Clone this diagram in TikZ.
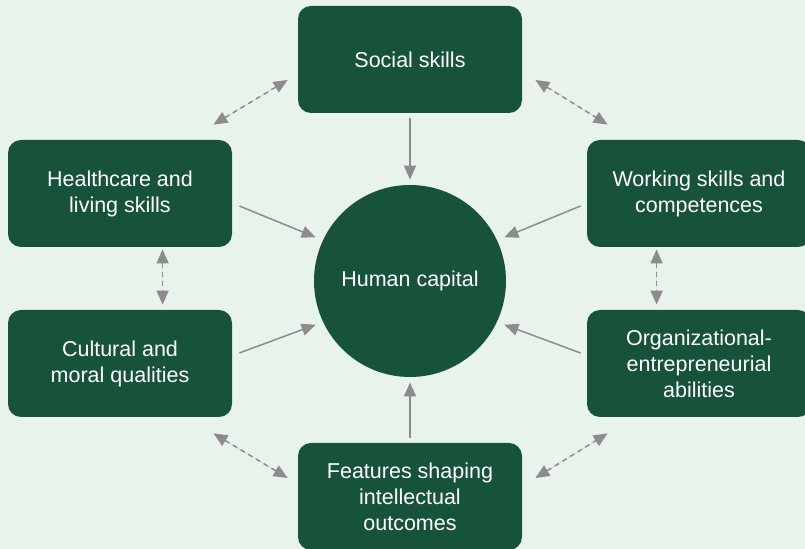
\documentclass[tikz,border=0pt]{standalone}
\usepackage{fontspec}
\setmainfont{Liberation Sans}
\usetikzlibrary{calc,arrows.meta}
\definecolor{bgmint}{HTML}{E8F3EC}
\definecolor{boxgreen}{HTML}{17523A}
\definecolor{arrgray}{HTML}{8C8C8E}
\tikzset {>={Triangle[length=7pt,width=6pt]}}
\tikzset{
  skill/.style={fill=boxgreen, text=white, rounded corners=6.5pt, align=center,
    minimum width=112pt, minimum height=53.5pt, inner sep=2pt,
    font=\fontsize{10.75}{13}\selectfont},
  hub/.style={circle, fill=boxgreen, text=white, minimum size=96pt, inner sep=0pt,
    font=\fontsize{10.75}{13}\selectfont},
  feed/.style={->, draw=arrgray, fill=arrgray, line width=0.75pt},
  link/.style={<->, draw=arrgray, fill=arrgray, line width=0.75pt,
    dash pattern=on 2.5pt off 2pt}
}

\begin{document}
\begin{tikzpicture}[x=0.5pt,y=-0.5pt]
\fill[bgmint] (0,0) rectangle (805,549);
\useasboundingbox (0,0) rectangle (805,549);

\node[hub] (hc) at (410,281) {Human capital};

\node[skill] (social) at (410,59.5) {Social skills};
\node[skill] (health) at (120,193.5) {Healthcare and\\living skills};
\node[skill] (work) at (699,193.5) {Working skills and\\competences};
\node[skill] (culture) at (120,363.5) {Cultural and\\moral qualities};
\node[skill] (org) at (699,363.5) {Organizational-\\entrepreneurial\\abilities};
\node[skill] (feat) at (410,496.5) {Features shaping\\intellectual\\outcomes};

% into the hub
\draw[feed] ($(social.south)+(0,5)$) -- ($(hc.north)+(0,-5)$);
\draw[feed] ($(feat.north)+(0,-5)$) -- ($(hc.south)+(0,5)$);
\draw[feed] ($(health.east)+(7,12.5)$) -- ($(hc.155)+(-7,-3)$);
\draw[feed] ($(culture.east)+(7,-10.5)$) -- ($(hc.205)+(-7,3)$);
\draw[feed] ($(work.west)+(-6,12.5)$) -- ($(hc.25)+(7,-3)$);
\draw[feed] ($(org.west)+(-6,-10.5)$) -- ($(hc.-25)+(7,3)$);

% between neighbours
\draw[link] ($(health.north east)+(-19,-15)$) -- ($(social.west)+(-10,20.5)$);
\draw[link] ($(social.east)+(13,20.5)$) -- ($(work.north west)+(21,-15)$);
\draw[link] ($(health.south west)+(155,2)$) -- ($(culture.north west)+(155,-5)$);
\draw[link] ($(work.south west)+(70,2)$) -- ($(org.north west)+(70,-5)$);
\draw[link] ($(culture.south east)+(-19,16)$) -- ($(feat.west)+(-10,-18.5)$);
\draw[link] ($(feat.east)+(13,-18.5)$) -- ($(org.south west)+(21,16)$);
\end{tikzpicture}
\end{document}
